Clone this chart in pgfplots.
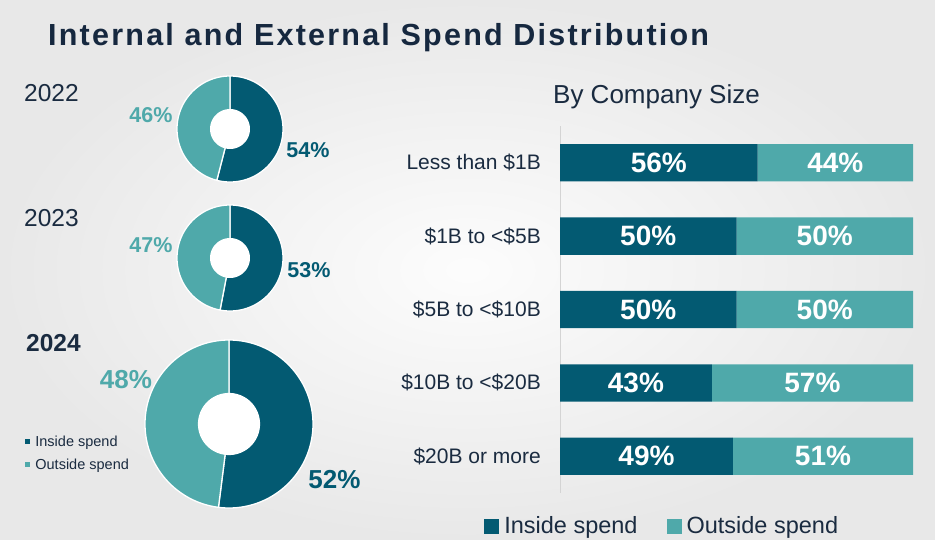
\documentclass[border=0pt]{standalone}
\usepackage{pgfplots}
\pgfplotsset{compat=1.18}
\usepackage{pgfplotstable}
\usepackage{fontspec}
\setmainfont{Liberation Sans}
\definecolor{inside}{HTML}{035A72}
\definecolor{outside}{HTML}{4FA9AA}
\definecolor{navy}{HTML}{1A2B40}
\definecolor{titlec}{HTML}{16283F}
\newcommand{\fs}[1]{\fontsize{#1}{#1}\selectfont}
\pgfplotsset{/pgf/number format/assume math mode=true}

% company size: inside / outside spend (%)
\pgfplotstableread{
cat in out
0 56 44
1 50 50
2 50 50
3 43 57
4 49 51
}\sizetable

\pgfplotsset{
  donut/.style={anchor=center, scale only axis, xmin=-1, xmax=1, ymin=-1, ymax=1,
    hide axis, clip=false},
  slice/.style={draw=white, line width=1.3pt, samples=120, variable=\t},
}

\begin{document}
\begin{tikzpicture}
\useasboundingbox (0pt,0pt) rectangle (935pt,-540pt);
\shade[inner color=white!99!black, outer color=white!91!black] (0pt,0pt) rectangle (935pt,-540pt);

% title
\node[anchor=base west, inner sep=0pt, text=titlec, font=\fs{30.5}\bfseries\addfontfeature{LetterSpace=7.3}] at (48pt,-46pt) {Internal and External Spend Distribution};

% years
\node[anchor=base west, inner sep=0pt, text=navy, font=\fs{24.5}] at (24pt,-102pt) {2022};
\node[anchor=base west, inner sep=0pt, text=navy, font=\fs{24.5}] at (24pt,-227pt) {2023};
\node[anchor=base west, inner sep=0pt, text=navy, font=\fs{24.5}\bfseries] at (26pt,-352pt) {2024};

% donut 2022
\begin{axis}[donut, at={(230pt,-129pt)}, width=106pt, height=106pt]
\addplot[slice, fill=inside, domain=0:54] ({cos(90-3.6*\t)},{sin(90-3.6*\t)}) -- (0,0) -- cycle;
\addplot[slice, fill=outside, domain=54:100] ({cos(90-3.6*\t)},{sin(90-3.6*\t)}) -- (0,0) -- cycle;
\addplot[forget plot, fill=white, draw=none, domain=0:360, samples=120] ({0.377*cos(x)},{0.377*sin(x)});
\end{axis}
% donut 2023
\begin{axis}[donut, at={(230pt,-258pt)}, width=106pt, height=106pt]
\addplot[slice, fill=inside, domain=0:53] ({cos(90-3.6*\t)},{sin(90-3.6*\t)}) -- (0,0) -- cycle;
\addplot[slice, fill=outside, domain=53:100] ({cos(90-3.6*\t)},{sin(90-3.6*\t)}) -- (0,0) -- cycle;
\addplot[forget plot, fill=white, draw=none, domain=0:360, samples=120] ({0.377*cos(x)},{0.377*sin(x)});
\end{axis}
% donut 2024
\begin{axis}[donut, at={(229pt,-424pt)}, width=168pt, height=168pt,
  legend style={at={(-0.714,0.444)}, anchor=north west, draw=none, fill=none,
    font=\fs{14.5}, text=navy, inner sep=0pt, row sep=7pt},
  legend cell align=left,
  legend image code/.code={\fill[#1, draw=none] (0pt,-2.3pt) rectangle (4.6pt,2.3pt); \path (7.5pt,0pt);}]
\addplot[slice, fill=inside, domain=0:52] ({cos(90-3.6*\t)},{sin(90-3.6*\t)}) -- (0,0) -- cycle;
\addlegendentry{Inside spend}
\addplot[slice, fill=outside, domain=52:100] ({cos(90-3.6*\t)},{sin(90-3.6*\t)}) -- (0,0) -- cycle;
\addlegendentry{Outside spend}
\addplot[forget plot, fill=white, draw=none, domain=0:360, samples=120] ({0.37*cos(x)},{0.37*sin(x)});
\end{axis}

% donut labels
\node[anchor=base, inner sep=0pt, text=outside, font=\fs{21.5}\bfseries] at (151pt,-123pt) {46\%};
\node[anchor=base, inner sep=0pt, text=inside, font=\fs{21.5}\bfseries] at (308pt,-158pt) {54\%};
\node[anchor=base, inner sep=0pt, text=outside, font=\fs{21.5}\bfseries] at (151pt,-253pt) {47\%};
\node[anchor=base, inner sep=0pt, text=inside, font=\fs{21.5}\bfseries] at (309pt,-278pt) {53\%};
\node[anchor=base, inner sep=0pt, text=outside, font=\fs{26}\bfseries] at (126pt,-388pt) {48\%};
\node[anchor=base, inner sep=0pt, text=inside, font=\fs{26}\bfseries] at (334.5pt,-488pt) {52\%};

% bar chart title
\node[anchor=base west, inner sep=0pt, text=navy, font=\fs{26}] at (553pt,-104pt) {By Company Size};

\begin{axis}[
  at={(560pt,-493pt)}, anchor=south west, width=353pt, height=367pt, scale only axis,
  xbar stacked, bar width=37.3pt,
  xmin=0, xmax=100, ymin=-0.5, ymax=4.5, y dir=reverse, enlargelimits=false,
  axis x line=none, axis y line*=left,
  y axis line style={draw=black!17, line width=0.8pt},
  ytick={0,1,2,3,4},
  yticklabels={Less than \$1B, \$1B to <\$5B, \$5B to <\$10B, \$10B to <\$20B, \$20B or more},
  major tick length=0pt,
  yticklabel style={font=\fs{21}, text=navy, anchor=east, inner sep=0pt, xshift=-19pt},
  clip=false,
  legend columns=2,
  legend style={at={(-0.215,-0.09)}, anchor=west, draw=none, fill=none,
    font=\fs{23.5}, text=navy, inner sep=0pt,
    /tikz/every even column/.append style={column sep=27pt}},
  legend image code/.code={\fill[#1, draw=none] (0pt,-7.5pt) rectangle (15pt,7.5pt); \path (18pt,0pt);},
  every node near coord/.style={anchor=center, text=white, font=\fs{28}\bfseries, inner sep=0pt},
]
\addplot[fill=inside, draw=none, point meta=explicit,
  nodes near coords={\pgfmathprintnumber{\pgfplotspointmeta}\%}]
  table[x=in, y=cat, meta=in] {\sizetable};
\addlegendentry{Inside spend}
\addplot[fill=outside, draw=none, point meta=explicit,
  nodes near coords={\pgfmathprintnumber{\pgfplotspointmeta}\%}]
  table[x=out, y=cat, meta=out] {\sizetable};
\addlegendentry{Outside spend}
\end{axis}
\end{tikzpicture}
\end{document}
